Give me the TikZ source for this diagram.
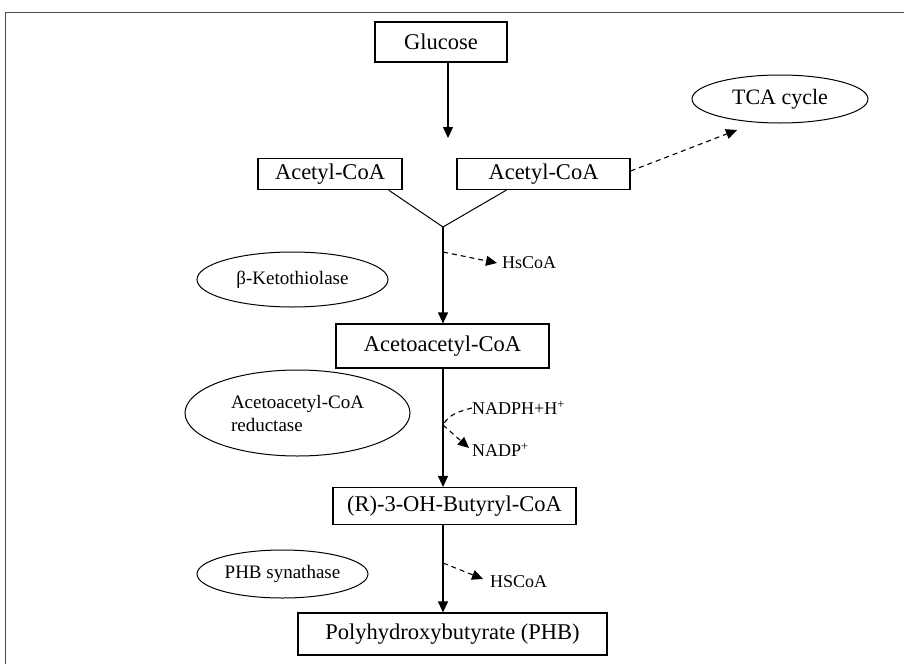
\documentclass[tikz,border=0pt]{standalone}
\usepackage{fontspec}
\setmainfont{Liberation Serif}
\usetikzlibrary{arrows.meta,positioning,shapes.geometric}
\tikzset{
  box/.style  = {draw, line width=1.2pt, fill=white, inner sep=0pt,
                 font=\fontsize{22.5}{26}\selectfont},
  enz/.style  = {ellipse, draw, line width=1pt, inner sep=0pt,
                 font=\fontsize{19}{23}\selectfont},
  lbl/.style  = {inner sep=0pt, anchor=west, font=\fontsize{18}{21}\selectfont},
  flow/.style = {line width=1.2pt, -{Triangle[length=11pt,width=10pt]}},
  side/.style = {line width=1.1pt, dash pattern=on 5pt off 4pt,
                 -{Triangle[length=11pt,width=10pt]}},
}

\begin{document}
\begin{tikzpicture}[x=1pt,y=-1pt]
  \useasboundingbox (0,0) rectangle (904,664);
  \draw[line width=1pt, black!70] (5,664) -- (5,12) -- (904,12);

  % main pathway
  \node[box, minimum width=132pt, minimum height=40pt] (glu) at (441,42) {Glucose};
  \node[box, minimum width=144pt, minimum height=31pt] (accL) at (330,174) {Acetyl-CoA};
  \node[box, minimum width=173pt, minimum height=31pt] (accR) at (543.5,174) {Acetyl-CoA};
  \node[box, minimum width=213pt, minimum height=44pt] (aac) at (442.5,346) {Acetoacetyl-CoA};
  \node[box, minimum width=243pt, minimum height=37pt] (but) at (454.5,506) {(R)-3-OH-Butyryl-CoA};
  \node[box, minimum width=309pt, minimum height=42pt] (phb) at (452.5,634) {Polyhydroxybutyrate (PHB)};

  % enzymes
  \node[enz, minimum width=191pt, minimum height=55pt] (ket) at (292.5,279.5) {β-Ketothiolase};
  \node[enz, minimum width=176pt, minimum height=48pt,
        font=\fontsize{22}{26}\selectfont] (tca) at (780,99) {TCA cycle};
  \node[enz, minimum width=225pt, minimum height=86pt, align=left] (red) at (297.5,413)
        {Acetoacetyl-CoA\\reductase};
  \node[enz, minimum width=171pt, minimum height=48pt] (phbs) at (282.5,574) {PHB synathase};

  % side products
  \node[lbl] (hs1) at (502,263) {HsCoA};
  \node[lbl] (nadph) at (472,408) {NADPH+H\textsuperscript{+}};
  \node[lbl] (nadp) at (472,450) {NADP\textsuperscript{+}};
  \node[lbl] (hs2) at (490,582) {HSCoA};

  \coordinate (gend) at (448,138);
  \coordinate (join) at (443,227);
  \coordinate (k1) at (443,252);
  \coordinate (k2) at (443,425);
  \coordinate (k3) at (443,563);
  \coordinate (tcain) at (737,130);

  \draw[flow] (glu.south -| gend) -- (gend);
  \draw[line width=1pt] ([xshift=-14pt]accL.south east) -- (join) -- ([xshift=50pt]accR.south west);
  \draw[flow] (join) -- (join |- aac.north);
  \draw[flow] (aac.south -| join) -- (join |- but.north);
  \draw[flow] (but.south -| join) -- (join |- phb.north);

  \draw[side] ([yshift=3pt]accR.east) -- (tcain);
  \draw[side] (k1) -- ([xshift=-5pt]hs1.west);
  \draw[side,-] (nadph.west) to[out=195,in=60] (k2);
  \draw[side] (k2) -- ([xshift=-3pt,yshift=2pt]nadp.west);
  \draw[side] (k3) -- ([xshift=-7pt,yshift=3pt]hs2.west);
\end{tikzpicture}
\end{document}
